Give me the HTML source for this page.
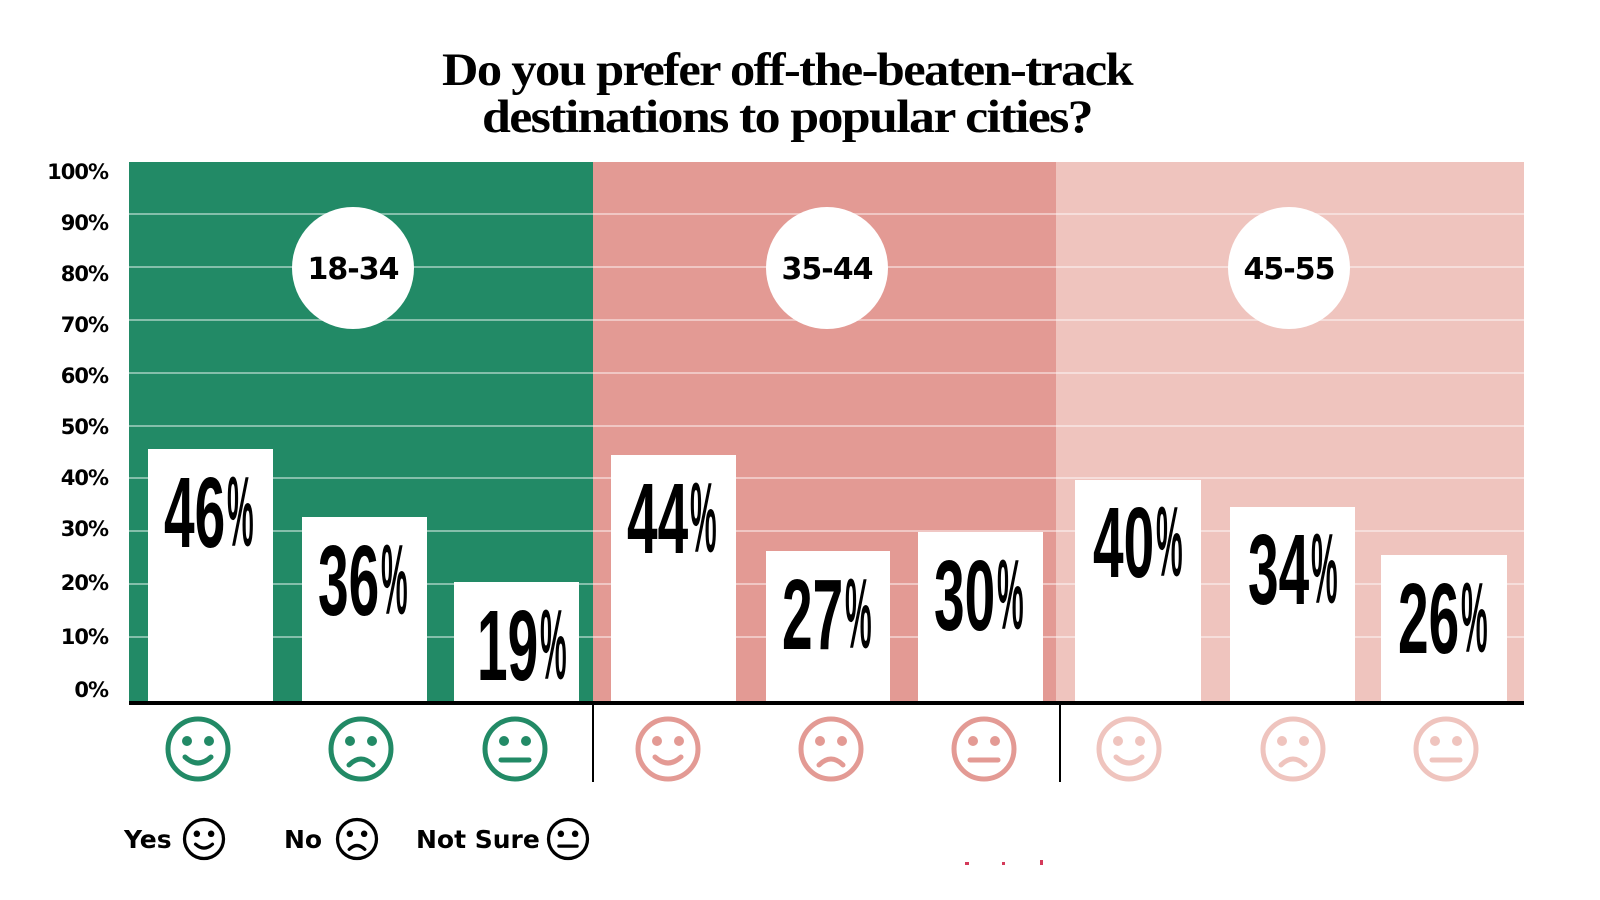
<!DOCTYPE html>
<html><head><meta charset="utf-8"><style>
html,body{margin:0;padding:0;background:#fff;}
svg{display:block;}
.t{font-family:"Liberation Serif",serif;font-weight:bold;font-size:47px;letter-spacing:-1.5px;}
.y{font-family:"DejaVu Sans","Liberation Sans",sans-serif;font-weight:bold;font-size:21px;letter-spacing:-1px;}
.c{font-family:"DejaVu Sans","Liberation Sans",sans-serif;font-weight:bold;font-size:30px;letter-spacing:-1px;}
.n{font-family:"Liberation Sans",sans-serif;font-weight:bold;font-size:100px;}
.p{font-family:"Liberation Sans",sans-serif;font-weight:bold;font-size:60px;}
.l{font-family:"DejaVu Sans","Liberation Sans",sans-serif;font-weight:bold;font-size:25px;}
</style></head><body>
<svg width="1600" height="900" viewBox="0 0 1600 900" xmlns="http://www.w3.org/2000/svg">
<text class="t" x="787" y="85" text-anchor="middle" textLength="690" lengthAdjust="spacingAndGlyphs">Do you prefer off-the-beaten-track</text>
<text class="t" x="787" y="132" text-anchor="middle" textLength="610" lengthAdjust="spacingAndGlyphs">destinations to popular cities?</text>

<rect x="129" y="162" width="464" height="541" fill="#228a66"/>
<rect x="593" y="162" width="463" height="541" fill="#e39a94"/>
<rect x="1056" y="162" width="468" height="541" fill="#efc4be"/>
<g stroke="#ffffff" stroke-opacity="0.45" stroke-width="2">
<line x1="129" x2="1524" y1="214" y2="214"/><line x1="129" x2="1524" y1="267" y2="267"/>
<line x1="129" x2="1524" y1="320" y2="320"/><line x1="129" x2="1524" y1="373" y2="373"/>
<line x1="129" x2="1524" y1="426" y2="426"/><line x1="129" x2="1524" y1="478" y2="478"/>
<line x1="129" x2="1524" y1="531" y2="531"/><line x1="129" x2="1524" y1="584" y2="584"/>
<line x1="129" x2="1524" y1="637" y2="637"/>
</g>

<g class="y" text-anchor="end">
<text x="108" y="179">100%</text><text x="108" y="230">90%</text><text x="108" y="281">80%</text>
<text x="108" y="332">70%</text><text x="108" y="383">60%</text><text x="108" y="434">50%</text>
<text x="108" y="485">40%</text><text x="108" y="536">30%</text><text x="108" y="590">20%</text>
<text x="108" y="644">10%</text><text x="108" y="697">0%</text>
</g>

<g fill="#fff">
<circle cx="353" cy="268" r="61"/><circle cx="827" cy="268" r="61"/><circle cx="1289" cy="268" r="61"/>
</g>
<g class="c" text-anchor="middle">
<text x="353" y="279">18-34</text><text x="827" y="279">35-44</text><text x="1289" y="279">45-55</text>
</g>

<g fill="#fff">
<rect x="148" y="449" width="125" height="254"/>
<rect x="302" y="517" width="125" height="186"/>
<rect x="454" y="582" width="125" height="121"/>
<rect x="611" y="455" width="125" height="248"/>
<rect x="766" y="551" width="124" height="152"/>
<rect x="918" y="532" width="125" height="171"/>
<rect x="1075" y="480" width="126" height="223"/>
<rect x="1230" y="507" width="125" height="196"/>
<rect x="1381" y="555" width="126" height="148"/>
</g>
<line x1="129" x2="1524" y1="703" y2="703" stroke="#000" stroke-width="4"/>
<line x1="593" x2="593" y1="703" y2="782" stroke="#000" stroke-width="2"/>
<line x1="1060" x2="1060" y1="703" y2="782" stroke="#000" stroke-width="2"/>

<g>
<g transform="translate(164,547)"><text class="n" transform="scale(0.55,1)">46</text><text class="p" x="126" y="-1" transform="scale(0.5,1.65)">%</text></g>
<g transform="translate(318,615)"><text class="n" transform="scale(0.55,1)">36</text><text class="p" x="126" y="-1" transform="scale(0.5,1.65)">%</text></g>
<g transform="translate(477,680)"><text class="n" transform="scale(0.55,1)">19</text><text class="p" x="126" y="-1" transform="scale(0.5,1.65)">%</text></g>
<g transform="translate(627,553)"><text class="n" transform="scale(0.55,1)">44</text><text class="p" x="126" y="-1" transform="scale(0.5,1.65)">%</text></g>
<g transform="translate(782,649)"><text class="n" transform="scale(0.55,1)">27</text><text class="p" x="126" y="-1" transform="scale(0.5,1.65)">%</text></g>
<g transform="translate(934,630)"><text class="n" transform="scale(0.55,1)">30</text><text class="p" x="126" y="-1" transform="scale(0.5,1.65)">%</text></g>
<g transform="translate(1093,577)"><text class="n" transform="scale(0.55,1)">40</text><text class="p" x="126" y="-1" transform="scale(0.5,1.65)">%</text></g>
<g transform="translate(1248,604)"><text class="n" transform="scale(0.55,1)">34</text><text class="p" x="126" y="-1" transform="scale(0.5,1.65)">%</text></g>
<g transform="translate(1398,653)"><text class="n" transform="scale(0.55,1)">26</text><text class="p" x="126" y="-1" transform="scale(0.5,1.65)">%</text></g>
</g>

<defs>
<g id="happy"><circle r="30" fill="none" stroke-width="5"/><circle cx="-11" cy="-8" r="5" stroke="none"/><circle cx="11" cy="-8" r="5" stroke="none"/><path d="M-13 8 Q0 20 13 8" fill="none" stroke-width="5" stroke-linecap="round"/></g>
<g id="sad"><circle r="30" fill="none" stroke-width="5"/><circle cx="-11" cy="-8" r="5" stroke="none"/><circle cx="11" cy="-8" r="5" stroke="none"/><path d="M-12 16 Q0 4 12 16" fill="none" stroke-width="5" stroke-linecap="round"/></g>
<g id="neutral"><circle r="30" fill="none" stroke-width="5"/><circle cx="-11" cy="-8" r="5" stroke="none"/><circle cx="11" cy="-8" r="5" stroke="none"/><line x1="-14" x2="14" y1="11" y2="11" stroke-width="5" stroke-linecap="round"/></g>
</defs>
<g fill="#228a66" stroke="#228a66">
<use href="#happy" x="198" y="749"/><use href="#sad" x="361" y="749"/><use href="#neutral" x="515" y="749"/>
</g>
<g fill="#e39a94" stroke="#e39a94">
<use href="#happy" x="668" y="749"/><use href="#sad" x="831" y="749"/><use href="#neutral" x="984" y="749"/>
</g>
<g fill="#efc4be" stroke="#efc4be">
<use href="#happy" x="1129" y="749"/><use href="#sad" x="1293" y="749"/><use href="#neutral" x="1446" y="749"/>
</g>

<g class="l">
<text x="124" y="848">Yes</text><text x="284" y="848">No</text><text x="416" y="848">Not Sure</text>
</g>
<g fill="#000" stroke="#000">
<use href="#happy" transform="translate(204,839) scale(0.65)"/>
<use href="#sad" transform="translate(357,839) scale(0.65)"/>
<use href="#neutral" transform="translate(568,839) scale(0.65)"/>
</g>
<g fill="#d43a5a"><rect x="965" y="862" width="4" height="3"/><rect x="1002" y="862" width="3" height="3"/><rect x="1040" y="860" width="3" height="5"/></g>
</svg>
</body></html>
